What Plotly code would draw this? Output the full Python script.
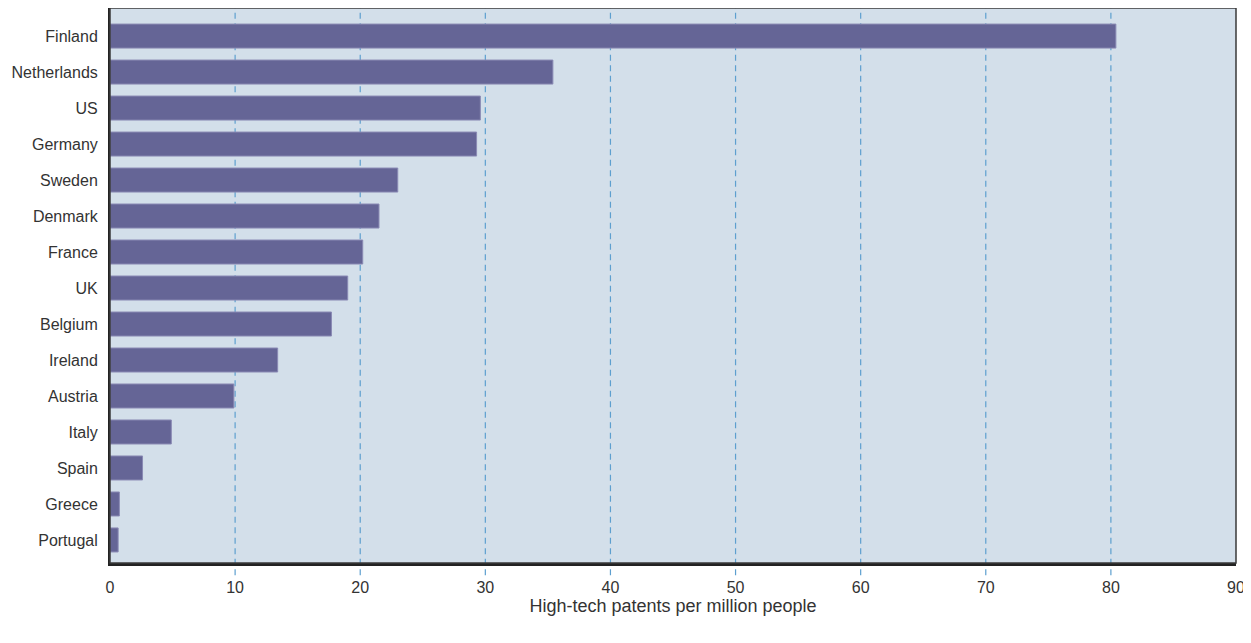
import plotly.graph_objects as go

countries = ["Finland", "Netherlands", "US", "Germany", "Sweden", "Denmark", "France",
             "UK", "Belgium", "Ireland", "Austria", "Italy", "Spain", "Greece", "Portugal"]
patents = [80.4, 35.4, 29.6, 29.3, 23.0, 21.5, 20.2, 19.0, 17.7, 13.4, 9.9, 4.9, 2.6, 0.75, 0.65]
x_ticks = [0, 10, 20, 30, 40, 50, 60, 70, 80, 90]
x_title = "High-tech patents per million people"

fig = go.Figure()
fig.add_trace(go.Bar(
    x=patents, y=countries, orientation="h",
    marker=dict(color="#656596", line=dict(color="#8a8ab4", width=1)),
    hoverinfo="x+y",
))

# dashed gridlines extending slightly below the axis
for t in x_ticks[1:-1]:
    fig.add_shape(type="line", xref="x", yref="paper", x0=t, x1=t, y0=-0.022, y1=1,
                  line=dict(color="#5d9fcf", width=1.2, dash="6px,4.5px"), layer="below")

# border
fig.add_shape(type="rect", xref="paper", yref="paper", x0=0, x1=1, y0=0, y1=1,
              line=dict(color="#3a3a3a", width=1.5), layer="above")

fig.update_layout(
    width=1251, height=643,
    margin=dict(l=102, r=23, t=0, b=88, autoexpand=False),
    paper_bgcolor="white",
    plot_bgcolor="#d3dfea",
    bargap=0.333,
    showlegend=False,
    xaxis=dict(
        range=[0, 90], tickvals=x_ticks, ticktext=[str(v) for v in x_ticks],
        showgrid=False, zeroline=False, automargin=False,
        showline=True, linecolor="#222222", linewidth=3,
        ticks="", ticklabelstandoff=8,
        tickfont=dict(family="Liberation Sans, Arial, sans-serif", size=16, color="#333333"),
        title=dict(text=x_title, standoff=4,
                   font=dict(family="Liberation Sans, Arial, sans-serif", size=18, color="#333333")),
    ),
    yaxis=dict(
        categoryorder="array", categoryarray=countries,
        range=[14.64, -0.78],
        showgrid=False, zeroline=False, automargin=False,
        showline=True, linecolor="#222222", linewidth=2,
        ticks="", ticklabelstandoff=7,
        tickfont=dict(family="Liberation Sans Narrow, Arial Narrow, sans-serif", size=16, color="#333333"),
    ),
)

fig.write_html("out.html")
